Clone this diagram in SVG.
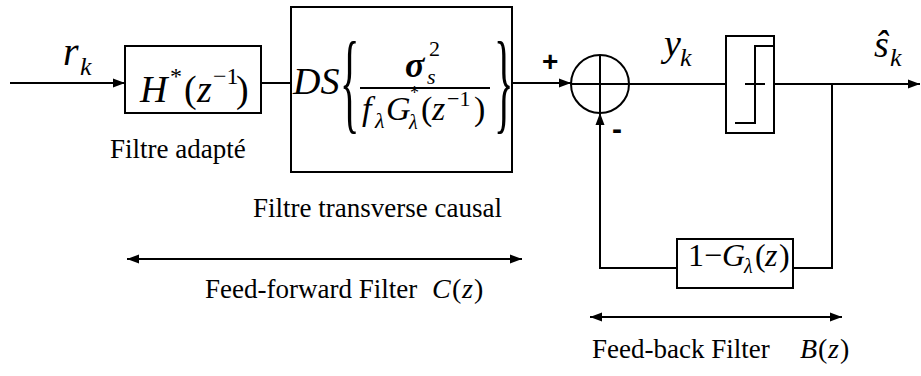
<svg xmlns="http://www.w3.org/2000/svg" width="921" height="376" viewBox="0 0 921 376">
<defs>
<marker id="ah" viewBox="0 0 12 10" refX="12" refY="5" markerWidth="12" markerHeight="10" markerUnits="userSpaceOnUse" orient="auto-start-reverse">
<path d="M0,0.5 L12,5 L0,9.5 Z" fill="#000"/>
</marker>
<style>
.ln{fill:none;stroke:#000;stroke-width:2}
.bx{fill:#fff;stroke:#000;stroke-width:2}
.t{font-family:"Liberation Serif","Times New Roman",serif;font-size:27px;fill:#000}
.m{font-family:"Liberation Serif","Times New Roman",serif;font-style:italic;fill:#000}
.r{font-family:"Liberation Serif","Times New Roman",serif;fill:#000}
.s{font-family:"Liberation Sans",Arial,sans-serif;font-weight:bold;fill:#000}
</style>
</defs>
<rect width="921" height="376" fill="#fff"/>
<g id="connectors">
<path class="ln" d="M10,83 H125" marker-end="url(#ah)"/>
<path class="ln" d="M261,83 H291"/>
<path class="ln" d="M512,83 H571" marker-end="url(#ah)"/>
<path class="ln" d="M629,84 H726"/>
<path class="ln" d="M774,84 H920" marker-end="url(#ah)"/>
<path class="ln" d="M832,84 V268 H793"/>
<path class="ln" d="M677,268 H600 V113" marker-end="url(#ah)"/>
<path class="ln" d="M127,259 H522" marker-start="url(#ah)" marker-end="url(#ah)"/>
<path class="ln" d="M590,317 H842" marker-start="url(#ah)" marker-end="url(#ah)"/>
</g>
<g id="input-label">
<text class="m" x="63" y="65" font-size="40">r</text>
<text class="m" x="80" y="75" font-size="26">k</text>
</g>
<g id="matched-filter">
<rect class="bx" x="125" y="46" width="136" height="67"/>
<text class="m" x="140" y="102" font-size="38">H</text>
<text class="r" x="170" y="84" font-size="24">*</text>
<text class="r" x="184" y="102" font-size="38">(</text>
<text class="m" x="197" y="102" font-size="38">z</text>
<text class="r" x="213" y="84" font-size="24">−1</text>
<text class="r" x="236" y="102" font-size="38">)</text>
<text class="t" x="110" y="158">Filtre adapté</text>
</g>
<g id="transverse-filter">
<rect class="bx" x="291" y="7" width="221" height="165"/>
<text class="m" x="293" y="94" font-size="38">DS</text>
<text class="r" transform="translate(340,119) scale(0.36,1)" font-size="112">{</text>
<text class="r" transform="translate(494,119) scale(0.36,1)" font-size="112">}</text>
<text class="m" x="405" y="77" font-size="36" font-weight="bold">σ</text>
<text class="m" x="427" y="84" font-size="22">s</text>
<text class="r" x="429" y="56" font-size="22">2</text>
<line class="ln" x1="360" y1="88" x2="490" y2="88" stroke-width="1.5"/>
<text class="m" x="362" y="120" font-size="34">f</text>
<text class="m" x="375" y="128" font-size="22">λ</text>
<text class="m" x="386" y="120" font-size="34">G</text>
<text class="r" x="410" y="99" font-size="18">*</text>
<text class="m" x="409" y="129" font-size="20">λ</text>
<text class="r" x="421" y="120" font-size="34">(</text>
<text class="m" x="432" y="120" font-size="34">z</text>
<text class="r" x="447" y="106" font-size="22">−1</text>
<text class="r" x="474" y="120" font-size="34">)</text>
<text class="t" x="253" y="217">Filtre transverse causal</text>
</g>
<g id="summer">
<circle class="ln" cx="600" cy="84" r="29"/>
<path class="ln" d="M571,84 H629 M600,55 V113"/>
<text class="s" x="542" y="71" font-size="28">+</text>
<text class="s" x="612" y="139" font-size="30">-</text>
</g>
<g id="yk-label">
<text class="m" x="664" y="56" font-size="38">y</text>
<text class="m" x="680" y="66" font-size="26">k</text>
</g>
<g id="decision">
<rect class="bx" x="726" y="36" width="48" height="97"/>
<path class="ln" d="M735,123 H755 V46 H774 M745,84 H765"/>
</g>
<g id="output-label">
<text class="m" x="874" y="57" font-size="38">ŝ</text>
<text class="m" x="890" y="66" font-size="26">k</text>
</g>
<g id="feedback-filter">
<rect class="bx" x="677" y="239" width="116" height="49"/>
<text class="r" x="688" y="266" font-size="32">1−</text>
<text class="m" x="722" y="266" font-size="32">G</text>
<text class="m" x="744" y="273" font-size="20">λ</text>
<text class="r" x="755" y="266" font-size="32">(</text>
<text class="m" x="765" y="266" font-size="32">z</text>
<text class="r" x="779" y="266" font-size="32">)</text>
</g>
<g id="ff-label">
<text class="t" x="205" y="298">Feed-forward Filter</text>
<text class="m" x="432" y="298" font-size="28">C</text>
<text class="r" x="452" y="298" font-size="28">(</text>
<text class="m" x="462" y="298" font-size="28">z</text>
<text class="r" x="474" y="298" font-size="28">)</text>
</g>
<g id="fb-label">
<text class="t" x="592" y="358">Feed-back Filter</text>
<text class="m" x="800" y="358" font-size="28">B</text>
<text class="r" x="818" y="358" font-size="28">(</text>
<text class="m" x="828" y="358" font-size="28">z</text>
<text class="r" x="840" y="358" font-size="28">)</text>
</g>
</svg>
